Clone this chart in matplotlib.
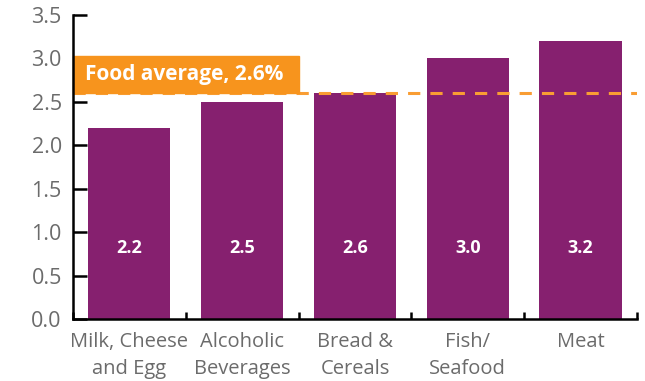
import numpy as np
import matplotlib.pyplot as plt
from matplotlib.patches import Rectangle

categories = ['Milk, Cheese\nand Egg', 'Alcoholic\nBeverages', 'Bread &\nCereals',
              'Fish/\nSeafood', 'Meat']
values = [2.2, 2.5, 2.6, 3.0, 3.2]
food_average = 2.6
yticks = [0.0, 0.5, 1.0, 1.5, 2.0, 2.5, 3.0, 3.5]

purple = '#86206F'
orange = '#F7941D'
grey = '#6B6B6B'

plt.rcParams['font.family'] = ['Open Sans', 'DejaVu Sans']

fig = plt.figure(figsize=(6.45, 3.81), dpi=100)
ax = fig.add_axes([0.113, 0.1627, 0.8746, 0.7979])

x = np.arange(len(values))
ax.bar(x, values, width=0.73, color=purple, zorder=2)

for xi, v in zip(x, values):
    ax.text(xi, 0.82, f'{v:.1f}', ha='center', va='center', color='white',
            fontsize=13, fontweight='bold', zorder=3)

# average line with its tag box
ax.axhline(food_average, color='#F99D33', lw=2.2, dashes=(4, 3.3), zorder=4)
ax.add_patch(Rectangle((-0.5, food_average), 2.0, 0.43, color=orange,
                       zorder=5, clip_on=False))
ax.text(-0.39, food_average + 0.215, f'Food average, {food_average}%',
        ha='left', va='center', color='white', fontsize=15,
        fontweight='bold', zorder=6)

ax.set_xlim(-0.5, len(values) - 0.5)
ax.set_ylim(0, 3.5)
ax.set_yticks(yticks)
ax.set_yticklabels([f'{t:.1f}' for t in yticks])
ax.set_xticks(x)
ax.set_xticklabels(categories, linespacing=1.5)
ax.set_xticks(np.arange(-0.5, len(values)), minor=True)

for side in ['top', 'right']:
    ax.spines[side].set_visible(False)
for side in ['left', 'bottom']:
    ax.spines[side].set_linewidth(1.8)
    ax.spines[side].set_zorder(7)

ax.tick_params(axis='y', direction='in', length=10, width=1.8, pad=8,
               labelsize=15.5, labelcolor=grey)
ax.tick_params(axis='x', which='major', length=0, pad=9,
               labelsize=14.5, labelcolor=grey)
ax.tick_params(axis='x', which='minor', direction='in', length=5, width=1.8)

fig.savefig('out.png', dpi=100)
